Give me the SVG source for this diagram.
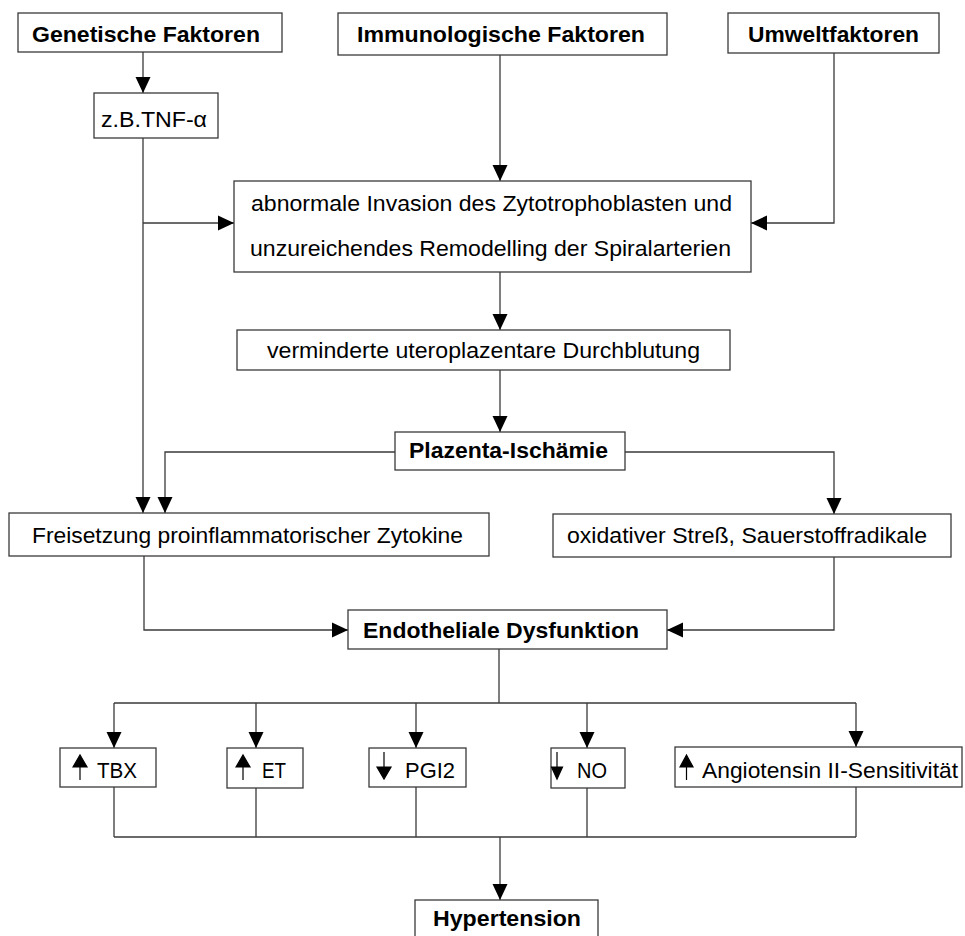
<svg xmlns="http://www.w3.org/2000/svg" width="965" height="936" viewBox="0 0 965 936">
<defs>
<style>
.box{fill:#fff;stroke:#3a3a3a;stroke-width:1.3}
.t{font-family:"Liberation Sans",Arial,sans-serif;font-size:22px;fill:#000}
.b{font-family:"Liberation Sans",Arial,sans-serif;font-size:22px;font-weight:bold;fill:#000}
.c{fill:none;stroke:#3a3a3a;stroke-width:1.3}
.sym{fill:#000;stroke:#000;stroke-width:1.2}
</style>
<marker id="ah" markerUnits="userSpaceOnUse" markerWidth="16" markerHeight="16" refX="16" refY="8" orient="auto">
<path d="M0,0.5 L16,8 L0,15.5 z" fill="#000"/>
</marker>
</defs>
<rect width="965" height="936" fill="#fff"/>
<g id="connectors">
<path class="c" d="M143,52 V93" marker-end="url(#ah)"/>
<path class="c" d="M143,138 V513" marker-end="url(#ah)"/>
<path class="c" d="M143,223 H234" marker-end="url(#ah)"/>
<path class="c" d="M500,55 V181" marker-end="url(#ah)"/>
<path class="c" d="M834,53 V223 H751" marker-end="url(#ah)"/>
<path class="c" d="M500,272 V330" marker-end="url(#ah)"/>
<path class="c" d="M500,370 V432" marker-end="url(#ah)"/>
<path class="c" d="M395,452 H165 V513" marker-end="url(#ah)"/>
<path class="c" d="M625,452 H834 V514" marker-end="url(#ah)"/>
<path class="c" d="M144,556 V630 H348" marker-end="url(#ah)"/>
<path class="c" d="M834,557 V630 H667" marker-end="url(#ah)"/>
<path class="c" d="M499,649 V703 M114,703 H856"/>
<path class="c" d="M114,703 V748" marker-end="url(#ah)"/>
<path class="c" d="M256,703 V748" marker-end="url(#ah)"/>
<path class="c" d="M416,703 V748" marker-end="url(#ah)"/>
<path class="c" d="M587,703 V748" marker-end="url(#ah)"/>
<path class="c" d="M856,703 V747" marker-end="url(#ah)"/>
<path class="c" d="M114,787 V837 M256,788 V837 M416,787 V837 M587,788 V837 M856,787 V837 M114,837 H856"/>
<path class="c" d="M500,837 V900" marker-end="url(#ah)"/>
</g>
<g id="genetische">
<rect class="box" x="18" y="13" width="264" height="39"/>
<text class="b" x="32" y="42" textLength="228" lengthAdjust="spacingAndGlyphs">Genetische Faktoren</text>
</g>
<g id="immunologische">
<rect class="box" x="338" y="13" width="329" height="42"/>
<text class="b" x="357" y="42" textLength="288" lengthAdjust="spacingAndGlyphs">Immunologische Faktoren</text>
</g>
<g id="umwelt">
<rect class="box" x="728" y="13" width="211" height="40"/>
<text class="b" x="748" y="42" textLength="171" lengthAdjust="spacingAndGlyphs">Umweltfaktoren</text>
</g>
<g id="tnf">
<rect class="box" x="94" y="93" width="124" height="45"/>
<text class="t" x="101" y="127" textLength="106" lengthAdjust="spacingAndGlyphs">z.B.TNF-α</text>
</g>
<g id="abnormale">
<rect class="box" x="234" y="181" width="517" height="91"/>
<text class="t" x="251" y="211" textLength="481" lengthAdjust="spacingAndGlyphs">abnormale Invasion des Zytotrophoblasten und</text>
<text class="t" x="250" y="256" textLength="481" lengthAdjust="spacingAndGlyphs">unzureichendes Remodelling der Spiralarterien</text>
</g>
<g id="verminderte">
<rect class="box" x="237" y="330" width="493" height="40"/>
<text class="t" x="267" y="358" textLength="433" lengthAdjust="spacingAndGlyphs">verminderte uteroplazentare Durchblutung</text>
</g>
<g id="plazenta">
<rect class="box" x="395" y="432" width="230" height="38"/>
<text class="b" x="409" y="458" textLength="199" lengthAdjust="spacingAndGlyphs">Plazenta-Ischämie</text>
</g>
<g id="freisetzung">
<rect class="box" x="9" y="513" width="480" height="43"/>
<text class="t" x="32" y="543" textLength="431" lengthAdjust="spacingAndGlyphs">Freisetzung proinflammatorischer Zytokine</text>
</g>
<g id="oxidativ">
<rect class="box" x="553" y="514" width="398" height="43"/>
<text class="t" x="567" y="543" textLength="360" lengthAdjust="spacingAndGlyphs">oxidativer Streß, Sauerstoffradikale</text>
</g>
<g id="endothel">
<rect class="box" x="348" y="610" width="319" height="39"/>
<text class="b" x="363" y="638" textLength="276" lengthAdjust="spacingAndGlyphs">Endotheliale Dysfunktion</text>
</g>
<g id="tbx">
<rect class="box" x="60" y="748" width="96" height="39"/>
<path class="sym" d="M73,767 L80,755 L87,767 z M80,767 V780"/>
<text class="t" x="97" y="778" textLength="40" lengthAdjust="spacingAndGlyphs">TBX</text>
</g>
<g id="et">
<rect class="box" x="227" y="748" width="76" height="40"/>
<path class="sym" d="M236,767 L243,755 L250,767 z M243,767 V780"/>
<text class="t" x="262" y="778" textLength="24" lengthAdjust="spacingAndGlyphs">ET</text>
</g>
<g id="pgi2">
<rect class="box" x="369" y="748" width="97" height="39"/>
<path class="sym" d="M384,752 V767 M377,767 L391,767 L384,779 z"/>
<text class="t" x="405" y="778" textLength="50" lengthAdjust="spacingAndGlyphs">PGI2</text>
</g>
<g id="no">
<rect class="box" x="551" y="748" width="74" height="40"/>
<path class="sym" d="M557,752 V767 M551.5,767 L562.5,767 L557,779 z"/>
<text class="t" x="577" y="778" textLength="30" lengthAdjust="spacingAndGlyphs">NO</text>
</g>
<g id="angiotensin">
<rect class="box" x="675" y="747" width="287" height="40"/>
<path class="sym" d="M680,767 L686.5,755 L693,767 z M686.5,767 V780"/>
<text class="t" x="702" y="778" textLength="256" lengthAdjust="spacingAndGlyphs">Angiotensin II-Sensitivität</text>
</g>
<g id="hypertension">
<rect class="box" x="415" y="900" width="183" height="50"/>
<text class="b" x="433" y="926" textLength="148" lengthAdjust="spacingAndGlyphs">Hypertension</text>
</g>
</svg>
